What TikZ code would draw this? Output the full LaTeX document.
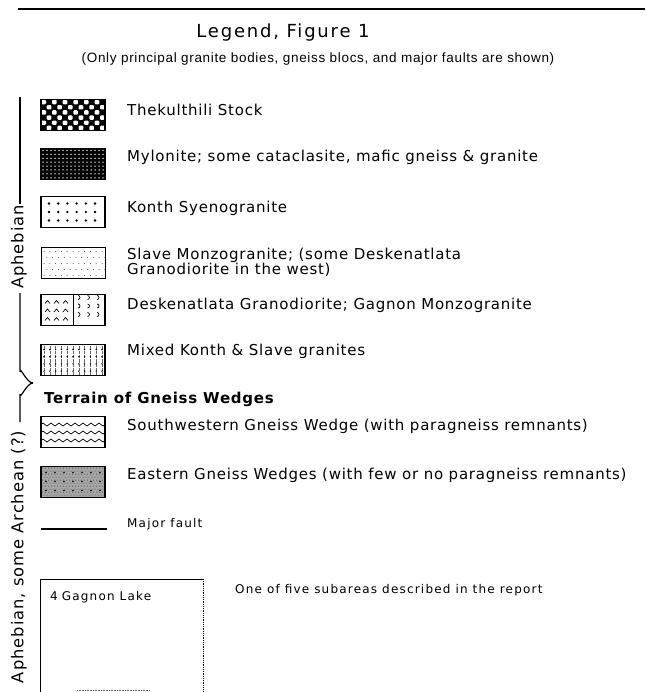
\documentclass[tikz,border=0pt]{standalone}
\usepackage{fontspec}
\setmainfont[LetterSpace=5]{DejaVu Sans}
\newfontfamily\helv[LetterSpace=5]{Liberation Sans}
\newfontfamily\titlefont[LetterSpace=10]{DejaVu Sans}
\newfontfamily\sidefont[LetterSpace=6]{DejaVu Sans}
\newfontfamily\smallfont[LetterSpace=10]{DejaVu Sans}

\begin{document}
\begin{tikzpicture}[x=1pt, y=-1pt,
  legbox/.style={draw, line width=1.3pt, minimum width=64pt, minimum height=31pt, inner sep=0pt},
  legtext/.style={anchor=west, inner sep=0pt, font=\fontsize{15}{15}\selectfont, align=left},
  smalltext/.style={anchor=west, inner sep=0pt, font=\smallfont\fontsize{12}{13}\selectfont},
  sidetext/.style={rotate=90, inner sep=1pt, font=\sidefont\fontsize{16.3}{18}\selectfont},
  brace/.style={line width=1.2pt}]
  \useasboundingbox (0,0) rectangle (645,692);

  % heading
  \draw[line width=1.4pt] (18,9) -- (645,9);
  \node[font=\titlefont\fontsize{18}{20}\selectfont] (title) at (283,33) {Legend, Figure 1};
  \node[font=\helv\fontsize{13.5}{15}\selectfont] (subtitle) at (318,59)
    {(Only principal granite bodies, gneiss blocs, and major faults are shown)};

  % legend boxes
  \node[legbox, path picture={
      \fill[black] (path picture bounding box.north west) rectangle (path picture bounding box.south east);
      \foreach \i in {0,...,11} \foreach \j in {0,...,5} {
        \pgfmathparse{int(mod(\i+\j,2))}
        \ifnum\pgfmathresult=0
          \fill[white, rounded corners=1pt] ([shift={(0.4+5.33*\i,0.4+5.17*\j)}]path picture bounding box.north west) rectangle ++(4.6,4.4);
        \fi}
    }] (thek) at (73,115) {};
  \node[legbox, path picture={
      \fill[black] (path picture bounding box.north west) rectangle (path picture bounding box.south east);
      \foreach \i in {0,...,15} \foreach \j in {0,...,7}
        \fill[white] ([shift={(2+4*\i,2+3.9*\j)}]path picture bounding box.north west) circle (0.75);
    }] (mylo) at (73,164) {};
  \node[legbox, path picture={
      \foreach \i in {0,...,5} \foreach \j in {0,...,2}
        \fill[black] ([shift={(8+9.2*\i,7+8.5*\j)}]path picture bounding box.north west) circle (1.3);
    }] (konth) at (73,212) {};
  \node[legbox, line width=1pt, path picture={
      \foreach \i in {0,...,10} \foreach \j in {0,...,4} {
        \pgfmathsetmacro{\xo}{3+5.8*\i+2.9*mod(\j,2)}
        \fill[black!70] ([shift={(\xo,4+6*\j)}]path picture bounding box.north west) circle (0.5);}
    }] (slave) at (73,263) {};
  \node[legbox, path picture={
      \draw[line width=0.9pt] ([shift={(32,0)}]path picture bounding box.north west) -- ++(0,31);
      \foreach \i in {0,...,2} \foreach \j in {0,...,2} {
        \draw[line width=0.7pt] ([shift={(4+9*\i,9+8.5*\j)}]path picture bounding box.north west) -- ++(2.5,-3) -- ++(2.5,3);
        \draw[line width=0.7pt] ([shift={(37+9.5*\i,5+8.5*\j)}]path picture bounding box.north west) arc[start angle=90, end angle=-90, radius=2];}
    }] (desk) at (73,310) {};
  \node[legbox, path picture={
      \foreach \i in {0,...,10}
        \draw[densely dotted, line width=0.3pt, black!60] ([shift={(3+5.8*\i,1)}]path picture bounding box.north west) -- ++(0,29);
      \foreach \i in {0,...,10} \foreach \j in {0,...,3}
        \fill[black] ([shift={(3+5.8*\i,5+7.2*\j)}]path picture bounding box.north west) circle (0.8);
    }] (mixed) at (73,360) {};
  \node[legbox, path picture={
      \foreach \j in {8,16,24}
        \draw[line width=0.7pt] ([shift={(0,\j)}]path picture bounding box.north west)
          sin ++(2,-1.5) cos ++(2,1.5) sin ++(2,1.5) cos ++(2,-1.5)
          sin ++(2,-1.5) cos ++(2,1.5) sin ++(2,1.5) cos ++(2,-1.5)
          sin ++(2,-1.5) cos ++(2,1.5) sin ++(2,1.5) cos ++(2,-1.5)
          sin ++(2,-1.5) cos ++(2,1.5) sin ++(2,1.5) cos ++(2,-1.5)
          sin ++(2,-1.5) cos ++(2,1.5) sin ++(2,1.5) cos ++(2,-1.5)
          sin ++(2,-1.5) cos ++(2,1.5) sin ++(2,1.5) cos ++(2,-1.5)
          sin ++(2,-1.5) cos ++(2,1.5) sin ++(2,1.5) cos ++(2,-1.5)
          sin ++(2,-1.5) cos ++(2,1.5) sin ++(2,1.5) cos ++(2,-1.5);
    }] (swgw) at (73,432) {};
  \node[legbox, line width=1.6pt, path picture={
      \fill[black!35] (path picture bounding box.north west) rectangle (path picture bounding box.south east);
      \foreach \i in {0,...,20} \foreach \j in {0,...,9} {
        \pgfmathsetmacro{\xo}{1.5+3*\i+1.5*mod(\j,2)}
        \fill[black!75] ([shift={(\xo,1.5+3*\j)}]path picture bounding box.north west) circle (0.5);}
      \foreach \i in {0,...,6} \foreach \j in {0,...,2}
        \fill[black] ([shift={(5+9*\i,6+9*\j)}]path picture bounding box.north west) circle (0.9);
    }] (egw) at (73,482) {};
  \coordinate (fault-a) at (41,529);
  \coordinate (fault-b) at (107,529);
  \draw[line width=1.2pt] (fault-a) -- (fault-b);

  % legend texts
  \node[legtext] (thek-t) at (127,110) {Thekulthili Stock};
  \node[legtext] (mylo-t) at (127,157) {Mylonite;  some cataclasite, mafic gneiss \& granite};
  \node[legtext] (konth-t) at (127,208) {Konth Syenogranite};
  \node[legtext] (slave-t) at (127,262) {Slave Monzogranite;  (some Deskenatlata\\Granodiorite in the west)};
  \node[legtext] (desk-t) at (127,305) {Deskenatlata Granodiorite;  Gagnon Monzogranite};
  \node[legtext] (mixed-t) at (127,351) {Mixed Konth \& Slave granites};
  \node[legtext, font=\bfseries\fontsize{15}{15}\selectfont] (terrain) at (44,399) {Terrain of Gneiss Wedges};
  \node[legtext] (swgw-t) at (127,426) {Southwestern Gneiss Wedge (with paragneiss remnants)};
  \node[legtext] (egw-t) at (127,475) {Eastern Gneiss Wedges (with few or no paragneiss remnants)};
  \node[smalltext] (fault-t) at (127,524) {Major fault};

  % subarea sample
  \coordinate (sub-bl) at (40,692);
  \coordinate (sub-tl) at (40,579);
  \coordinate (sub-tr) at (203,579);
  \coordinate (sub-br) at (203,692);
  \draw[line width=1pt] (sub-bl) -- (sub-tl) -- (sub-tr);
  \draw[densely dotted, line width=0.8pt] (sub-tr) -- (sub-br);
  \draw[densely dotted, line width=0.6pt, black!60] (77,690) -- (150,690);
  \node[smalltext] (sub-name) at (50,597) {4\,\,Gagnon Lake};
  \node[smalltext] (sub-t) at (235,590) {One of five subareas described in the report};

  % age brackets
  \coordinate (aph-top) at (20,97);
  \coordinate (aph-mid) at (20,204);
  \coordinate (aph-low) at (20,293);
  \coordinate (br-up) at (20,372);
  \coordinate (br-tip) at (33,383);
  \coordinate (br-dn) at (20,394);
  \coordinate (arc-top) at (20,422);
  \draw[brace] (aph-top) -- (aph-mid);
  \node[sidetext] (aph) at (19,247) {Aphebian};
  \draw[brace] (aph-low) -- (br-up) to[out=90, in=180] (br-tip);
  \draw[brace] (br-tip) to[out=180, in=-90] (br-dn) -- (arc-top);
  \node[sidetext] (arc) at (19,557) {Aphebian, some Archean (?)};
\end{tikzpicture}
\end{document}
